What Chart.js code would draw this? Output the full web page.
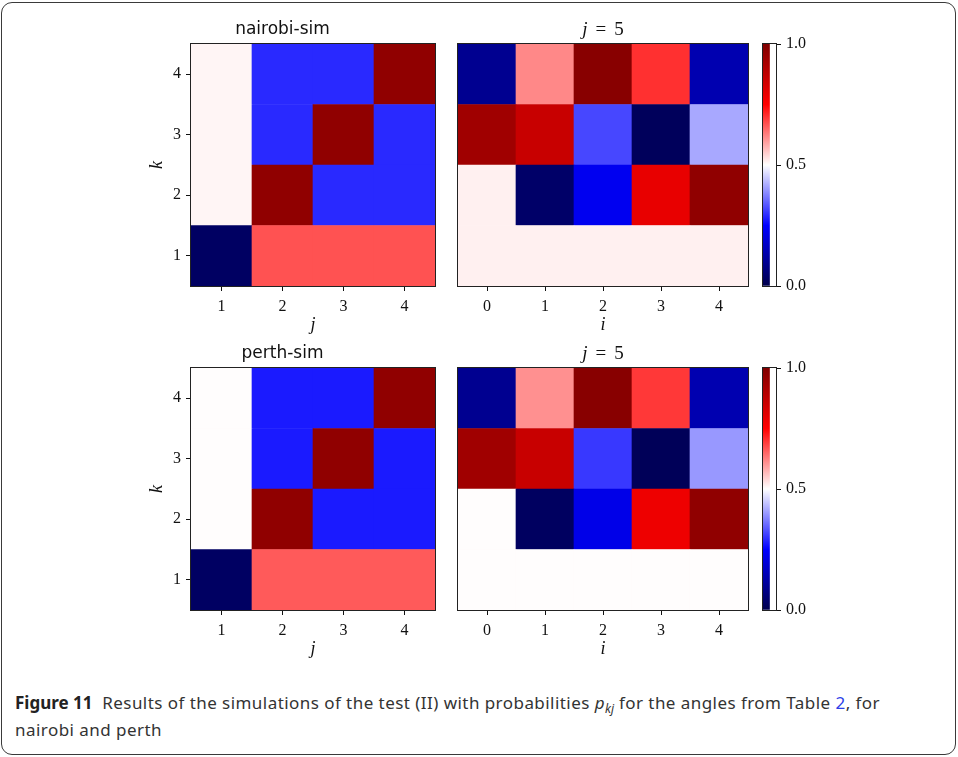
<!DOCTYPE html>
<html>
<head>
<meta charset="utf-8">
<script src="https://cdn.jsdelivr.net/npm/chart.js@4/dist/chart.umd.min.js"></script>
<style>
  html, body { margin: 0; padding: 0; background: #fff; }
  #page { position: relative; width: 958px; height: 757px; overflow: hidden; }
  #frame {
    position: absolute; left: 1px; top: 2px; width: 953px; height: 751px;
    border: 1px solid #3a3a3a; border-radius: 11px; box-sizing: content-box;
  }
  canvas { position: absolute; }
  #caption {
    position: absolute; left: 15px; top: 689px; width: 885px;
    font-family: "Noto Sans", sans-serif; font-size: 17px; line-height: 27px;
    color: #333; letter-spacing: 0.45px;
  }
  #caption b { color: #222; letter-spacing: 0; }
  #caption .ref { color: #2d3ee8; }
  #caption sub { font-size: 12px; vertical-align: -4px; line-height: 0; letter-spacing: 0; }
</style>
</head>
<body>
<div id="page">
  <div id="frame"></div>
  <canvas id="nairobi" width="320" height="335" style="left:130px;top:10px"></canvas>
  <canvas id="nairobi5" width="300" height="335" style="left:450px;top:10px"></canvas>
  <canvas id="cbar1" width="80" height="335" style="left:755px;top:10px"></canvas>
  <canvas id="perth" width="320" height="335" style="left:130px;top:334px"></canvas>
  <canvas id="perth5" width="300" height="335" style="left:450px;top:334px"></canvas>
  <canvas id="cbar2" width="80" height="335" style="left:755px;top:334px"></canvas>
  <div id="caption"><b>Figure 11</b>&nbsp;&nbsp;Results of the simulations of the test (II) with probabilities <i>p</i><sub><i>kj</i></sub> for the angles from Table <span class="ref">2</span>, for nairobi and perth</div>
</div>
<script>
// rows are k = 1..4, columns are j (left panels) or i (right panels)
const kLabels = [1, 2, 3, 4];
const jLabels = ['1', '2', '3', '4'];
const iLabels = ['0', '1', '2', '3', '4'];
const cbTicks = [0, 0.5, 1];

const nairobiK1 = [0.03, 0.67, 0.67, 0.67];
const nairobiK2 = [0.51, 0.967, 0.29, 0.29];
const nairobiK3 = [0.51, 0.29, 0.967, 0.29];
const nairobiK4 = [0.51, 0.29, 0.29, 0.967];

const nairobi5K1 = [0.515, 0.515, 0.515, 0.515, 0.515];
const nairobi5K2 = [0.515, 0.039, 0.229, 0.795, 0.967];
const nairobi5K3 = [0.936, 0.858, 0.32, 0.02, 0.415];
const nairobi5K4 = [0.095, 0.617, 0.983, 0.703, 0.139];

const perthK1 = [0.03, 0.662, 0.662, 0.662];
const perthK2 = [0.502, 0.967, 0.275, 0.275];
const perthK3 = [0.502, 0.275, 0.967, 0.275];
const perthK4 = [0.502, 0.275, 0.275, 0.967];

const perth5K1 = [0.502, 0.502, 0.502, 0.502, 0.502];
const perth5K2 = [0.502, 0.027, 0.218, 0.783, 0.967];
const perth5K3 = [0.936, 0.858, 0.305, 0.016, 0.399];
const perth5K4 = [0.095, 0.609, 0.983, 0.695, 0.139];

// matplotlib "seismic"
const seismicStops = [[0, 0, 0.3], [0, 0, 1], [1, 1, 1], [1, 0, 0], [0.5, 0, 0]];
function seismic(v) {
  const t = Math.min(Math.max(v, 0), 1) * 4;
  const i = Math.min(Math.floor(t), 3);
  const f = t - i;
  const a = seismicStops[i], b = seismicStops[i + 1];
  const c = a.map((x, n) => Math.round((x + (b[n] - x) * f) * 255));
  return 'rgb(' + c.join(',') + ')';
}

const serif = '"Liberation Serif", "DejaVu Serif", serif';
const tickFont = { family: serif, size: 16 };

// black box around the plot area, like matplotlib spines
const spines = {
  id: 'spines',
  afterDraw(chart) {
    const { ctx, chartArea: a } = chart;
    ctx.save();
    ctx.strokeStyle = '#222';
    ctx.lineWidth = 1;
    const l = Math.round(a.left) - 0.5, t = Math.round(a.top) - 0.5;
    ctx.strokeRect(l, t, Math.round(a.right) - Math.round(a.left) + 1, Math.round(a.bottom) - Math.round(a.top) + 1);
    ctx.restore();
  }
};

// "j = 5" style title, italic variable and upright value
const mathTitle = {
  id: 'mathTitle',
  afterDraw(chart, args, opts) {
    const { ctx, chartArea: a } = chart;
    ctx.save();
    ctx.fillStyle = '#111';
    ctx.textBaseline = 'alphabetic';
    const italic = 'italic 19px ' + serif, upright = '19px ' + serif;
    ctx.font = italic;
    const w1 = ctx.measureText(opts.variable).width;
    ctx.font = upright;
    const w2 = ctx.measureText('=').width;
    const w3 = ctx.measureText(opts.value).width;
    const gap = 8;
    let x = (a.left + a.right) / 2 - (w1 + w2 + w3 + 2 * gap) / 2;
    ctx.font = italic;
    ctx.fillText(opts.variable, x, opts.y);
    x += w1 + gap;
    ctx.font = upright;
    ctx.fillText('=', x, opts.y);
    x += w2 + gap;
    ctx.fillText(opts.value, x, opts.y);
    ctx.restore();
  }
};

function rowDatasets(rows) {
  return rows.map((row, r) => ({
    data: row.map(() => [kLabels[r] - 0.5, kLabels[r] + 0.5]),
    backgroundColor: row.map(seismic),
    borderWidth: 0,
    grouped: false,
    barPercentage: 1,
    categoryPercentage: 1
  }));
}

function heatmap(id, cols, rows, opts) {
  const showY = opts.showY;
  return new Chart(document.getElementById(id), {
    type: 'bar',
    data: { labels: cols, datasets: rowDatasets(rows) },
    plugins: opts.math ? [spines, mathTitle] : [spines],
    options: {
      responsive: false,
      animation: false,
      events: [],
      layout: { padding: { left: showY ? 0 : 8, right: opts.right, top: opts.math ? 34 : 0, bottom: 0 } },
      plugins: {
        legend: { display: false },
        tooltip: { enabled: false },
        title: {
          display: !!opts.title,
          text: opts.title,
          color: '#111',
          font: { family: '"DejaVu Sans", sans-serif', size: 17, weight: 'normal', lineHeight: 1 },
          padding: { top: 11, bottom: 6 }
        },
        mathTitle: { variable: 'j', value: '5', y: 25 }
      },
      scales: {
        x: {
          type: 'category',
          offset: true,
          grid: { offset: false, drawOnChartArea: false, tickLength: 5, color: '#111', tickWidth: 1 },
          border: { display: false },
          ticks: { font: tickFont, color: '#111', padding: 6, maxRotation: 0 },
          title: { display: true, text: opts.xTitle, color: '#111', font: { family: serif, size: 18, style: 'italic', lineHeight: 1 }, padding: { top: 0, bottom: 11 } },
          afterFit: s => { s.height = 59; }
        },
        y: {
          type: 'linear',
          display: showY,
          min: 0.5,
          max: 4.5,
          afterBuildTicks: s => { s.ticks = kLabels.map(v => ({ value: v })); },
          grid: { drawOnChartArea: false, tickLength: 5, color: '#111', tickWidth: 1 },
          border: { display: false },
          ticks: { font: tickFont, color: '#111', padding: 5, callback: v => String(v) },
          title: { display: true, text: 'k', color: '#111', font: { family: serif, size: 18, style: 'italic', lineHeight: 1 }, padding: { top: 18, bottom: 0 } },
          afterFit: s => { s.width = showY ? 61 : 0; }
        }
      }
    }
  });
}

function colorbar(id) {
  return new Chart(document.getElementById(id), {
    type: 'bar',
    data: {
      labels: [''],
      datasets: [{
        data: [[cbTicks[0], cbTicks[cbTicks.length - 1]]],
        borderWidth: 0,
        barPercentage: 1,
        categoryPercentage: 1,
        backgroundColor: c => {
          const area = c.chart.chartArea;
          if (!area) return '#fff';
          const g = c.chart.ctx.createLinearGradient(0, area.bottom, 0, area.top);
          seismicStops.forEach((s, n) => g.addColorStop(n / 4, seismic(n / 4)));
          return g;
        }
      }]
    },
    plugins: [spines],
    options: {
      responsive: false,
      animation: false,
      events: [],
      layout: { padding: { left: 8, right: 0, top: 34, bottom: 59 } },
      plugins: { legend: { display: false }, tooltip: { enabled: false } },
      scales: {
        x: { display: false, offset: false },
        y: {
          position: 'right',
          min: 0,
          max: 1,
          afterBuildTicks: s => { s.ticks = cbTicks.map(v => ({ value: v })); },
          grid: { drawOnChartArea: false, tickLength: 5, color: '#111', tickWidth: 1 },
          border: { display: false },
          ticks: { font: tickFont, color: '#111', padding: 5, callback: v => v.toFixed(1) },
          afterFit: s => { s.width = 59; }
        }
      }
    }
  });
}

heatmap('nairobi', jLabels, [nairobiK1, nairobiK2, nairobiK3, nairobiK4],
  { showY: true, title: 'nairobi-sim', xTitle: 'j', right: 15 });
heatmap('nairobi5', iLabels, [nairobi5K1, nairobi5K2, nairobi5K3, nairobi5K4],
  { showY: false, math: true, xTitle: 'i', right: 2 });
colorbar('cbar1');
heatmap('perth', jLabels, [perthK1, perthK2, perthK3, perthK4],
  { showY: true, title: 'perth-sim', xTitle: 'j', right: 15 });
heatmap('perth5', iLabels, [perth5K1, perth5K2, perth5K3, perth5K4],
  { showY: false, math: true, xTitle: 'i', right: 2 });
colorbar('cbar2');
</script>
</body>
</html>
